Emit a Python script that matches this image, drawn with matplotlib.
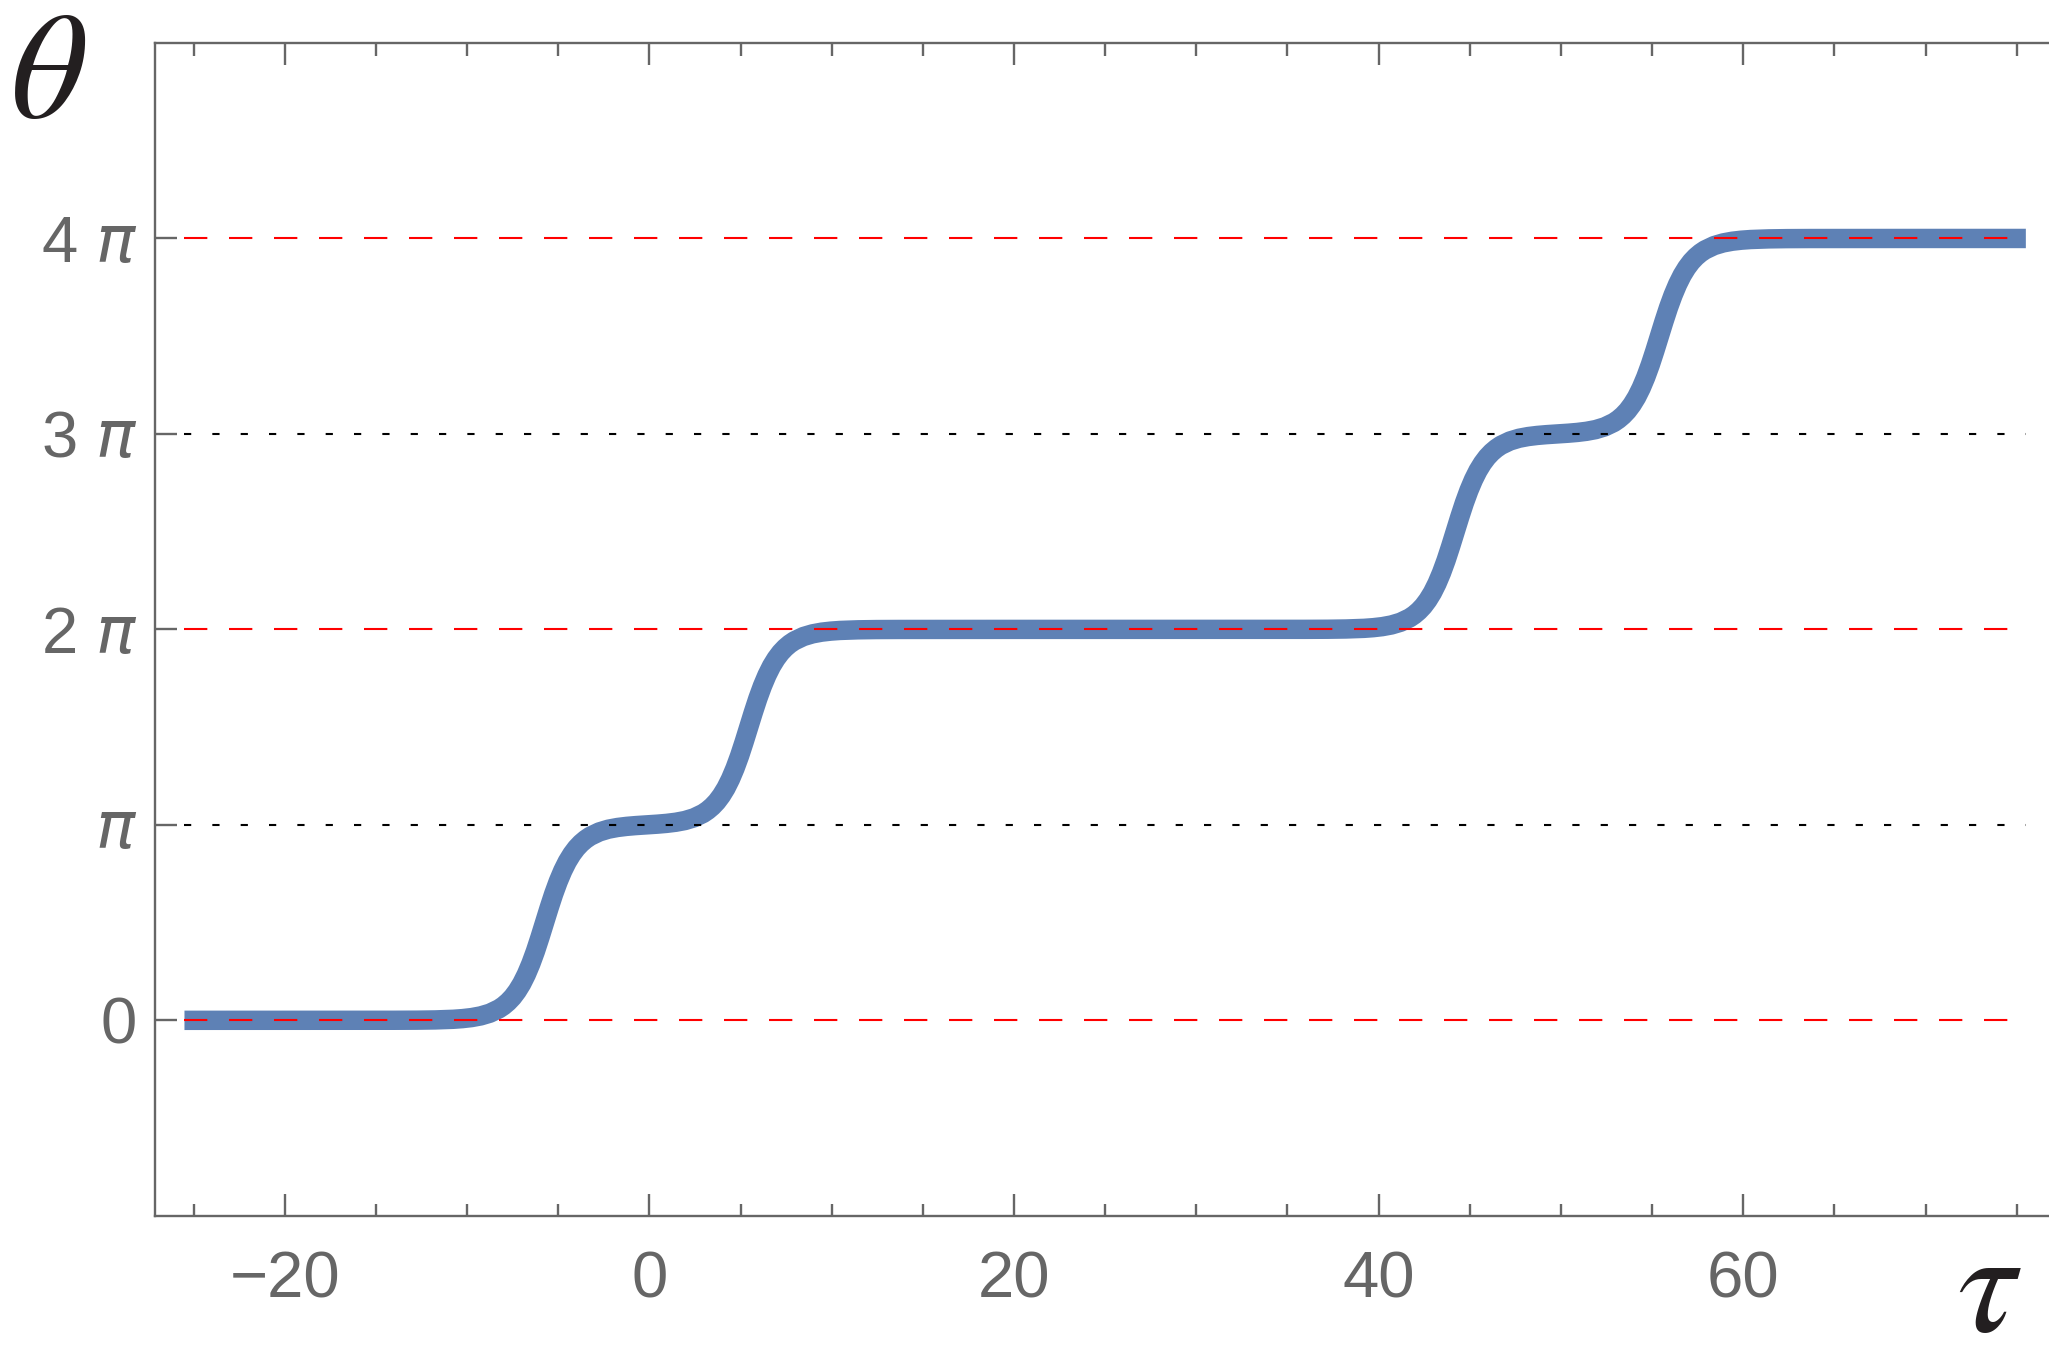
import matplotlib.pyplot as plt
import numpy as np

plt.rcParams['font.family'] = 'Liberation Sans'
plt.rcParams['mathtext.fontset'] = 'dejavusans'
plt.rcParams['lines.scale_dashes'] = False

# ---- theta(tau), theta in units of pi ----
tau = [-25.5, -20.0, -16.0, -14.0, -12.75, -11.75, -10.75, -10.25, -9.75, -9.25,
       -8.75, -8.25, -8.0, -7.75, -7.5, -7.25, -7.0, -6.75, -6.5, -6.25,
       -6.0, -5.75, -5.5, -5.25, -5.0, -4.75, -4.5, -4.25, -4.0, -3.75,
       -3.5, -3.25, -2.75, -2.25, -1.75, -1.25, -0.75, -0.15, 0.45, 0.95,
       1.45, 1.95, 2.45, 2.95, 3.2, 3.45, 3.7, 3.95, 4.2, 4.45,
       4.7, 4.95, 5.2, 5.45, 5.7, 5.95, 6.2, 6.45, 6.7, 6.95,
       7.2, 7.45, 7.7, 7.95, 8.45, 8.95, 9.45, 9.95, 10.45, 11.45,
       12.45, 13.7, 15.7, 19.7, 25.0, 30.0, 34.0, 35.95, 37.2, 38.2,
       39.2, 39.7, 40.2, 40.7, 41.2, 41.7, 41.95, 42.2, 42.45, 42.7,
       42.95, 43.2, 43.45, 43.7, 43.95, 44.2, 44.45, 44.7, 44.95, 45.2,
       45.45, 45.7, 45.95, 46.2, 46.45, 46.7, 47.2, 47.7, 48.2, 48.7,
       49.2, 49.8, 50.4, 50.9, 51.4, 51.9, 52.4, 52.9, 53.15, 53.4,
       53.65, 53.9, 54.15, 54.4, 54.65, 54.9, 55.15, 55.4, 55.65, 55.9,
       56.15, 56.4, 56.65, 56.9, 57.15, 57.4, 57.65, 57.9, 58.4, 58.9,
       59.4, 59.9, 60.4, 61.4, 62.4, 63.65, 65.65, 70.0, 75.5]
theta_pi = [0.0, 0.0, 0.0001, 0.0003, 0.0008, 0.0021, 0.0054, 0.0088, 0.0141, 0.0227,
            0.0365, 0.0587, 0.0744, 0.0942, 0.1188, 0.1499, 0.1879, 0.2346, 0.2899, 0.3536,
            0.4249, 0.5, 0.5751, 0.6464, 0.7101, 0.7654, 0.8121, 0.8501, 0.8812, 0.9058,
            0.9256, 0.9415, 0.9638, 0.9779, 0.9866, 0.9923, 0.9963, 1.0, 1.0037, 1.0077,
            1.0134, 1.0221, 1.0362, 1.0585, 1.0744, 1.0942, 1.1188, 1.1499, 1.1879, 1.2346,
            1.2899, 1.3536, 1.4249, 1.5, 1.5751, 1.6464, 1.7101, 1.7654, 1.8121, 1.8501,
            1.8812, 1.9058, 1.9256, 1.9413, 1.9635, 1.9773, 1.9859, 1.9912, 1.9946, 1.9979,
            1.9992, 1.9997, 1.9999, 2.0, 2.0, 2.0, 2.0001, 2.0003, 2.0008, 2.0021,
            2.0054, 2.0088, 2.0141, 2.0227, 2.0365, 2.0587, 2.0744, 2.0942, 2.1188, 2.1499,
            2.1879, 2.2346, 2.2899, 2.3536, 2.4249, 2.5, 2.5751, 2.6464, 2.7101, 2.7654,
            2.8121, 2.8501, 2.8812, 2.9058, 2.9256, 2.9415, 2.9638, 2.9779, 2.9866, 2.9923,
            2.9963, 3.0, 3.0037, 3.0077, 3.0134, 3.0221, 3.0362, 3.0585, 3.0744, 3.0942,
            3.1188, 3.1499, 3.1879, 3.2346, 3.2899, 3.3536, 3.4249, 3.5, 3.5751, 3.6464,
            3.7101, 3.7654, 3.8121, 3.8501, 3.8812, 3.9058, 3.9256, 3.9413, 3.9635, 3.9773,
            3.9859, 3.9912, 3.9946, 3.9979, 3.9992, 3.9997, 3.9999, 4.0, 4.0]

# reference levels (units of pi)
red_levels = [0, 2, 4]
black_levels = [1, 3]
guide_span = [-25.5, 75.5]

xticks_major = [-20, 0, 20, 40, 60]
xticks_minor = [-25, -15, -10, -5, 5, 10, 15, 25, 30, 35, 45, 50, 55, 65, 70, 75]
yticks = [0, 1, 2, 3, 4]
ytick_labels = ["0", r"$\pi$", r"2 $\pi$", r"3 $\pi$", r"4 $\pi$"]
# --------------------------------------------------------------------

frame_gray = "#666666"

fig = plt.figure(figsize=(2049 / 200, 1362 / 200), dpi=200)
ax = fig.add_axes([155.3 / 2049, 1 - 1215.8 / 1362, 1 - 155.3 / 2049, (1215.8 - 43) / 1362])

ax.plot(tau, np.pi * np.array(theta_pi), color="#5E81B5", lw=7,
        solid_capstyle="butt", solid_joinstyle="round", zorder=2)

for lev in red_levels:
    ax.plot(guide_span, [lev * np.pi, lev * np.pi], color="#FF0000", lw=0.75,
            linestyle=(0, (8.4, 7.8)), zorder=3)
for lev in black_levels:
    ax.plot(guide_span, [lev * np.pi, lev * np.pi], color="black", lw=0.75,
            linestyle=(0, (2.6, 7.6)), zorder=3)

ax.set_xticks(xticks_major)
ax.set_xticks(xticks_minor, minor=True)
ax.set_yticks([k * np.pi for k in yticks])
ax.set_yticklabels(ytick_labels)

# limits after the ticks so set_xticks can't widen them
ax.set_xlim(-27.1, 76.77)
ax.set_ylim(-np.pi, 5 * np.pi)

for s in ["left", "bottom", "top"]:
    ax.spines[s].set_color(frame_gray)
    ax.spines[s].set_linewidth(0.85)
ax.spines["right"].set_visible(False)

ax.tick_params(axis="x", which="both", direction="in", top=True, bottom=True,
               color=frame_gray, width=0.85, labelsize=23.5, labelcolor=frame_gray, pad=12.5)
ax.tick_params(axis="x", which="major", length=7.9)
ax.tick_params(axis="x", which="minor", length=4.5)
ax.tick_params(axis="y", which="major", direction="in", left=True, right=False,
               length=7.9, color=frame_gray, width=0.85, labelsize=23.5,
               labelcolor=frame_gray, pad=6.5)

fig.text(48 / 2049, 1 - 117 / 1362, r"$\theta$", math_fontfamily="stix",
         fontsize=54, color="#231F20", ha="center", va="baseline")
fig.text(1989 / 2049, 1 / 1362, r"$\tau$", math_fontfamily="stix",
         fontsize=53, color="#231F20", ha="center", va="bottom")

plt.savefig("out.png", dpi=200)
